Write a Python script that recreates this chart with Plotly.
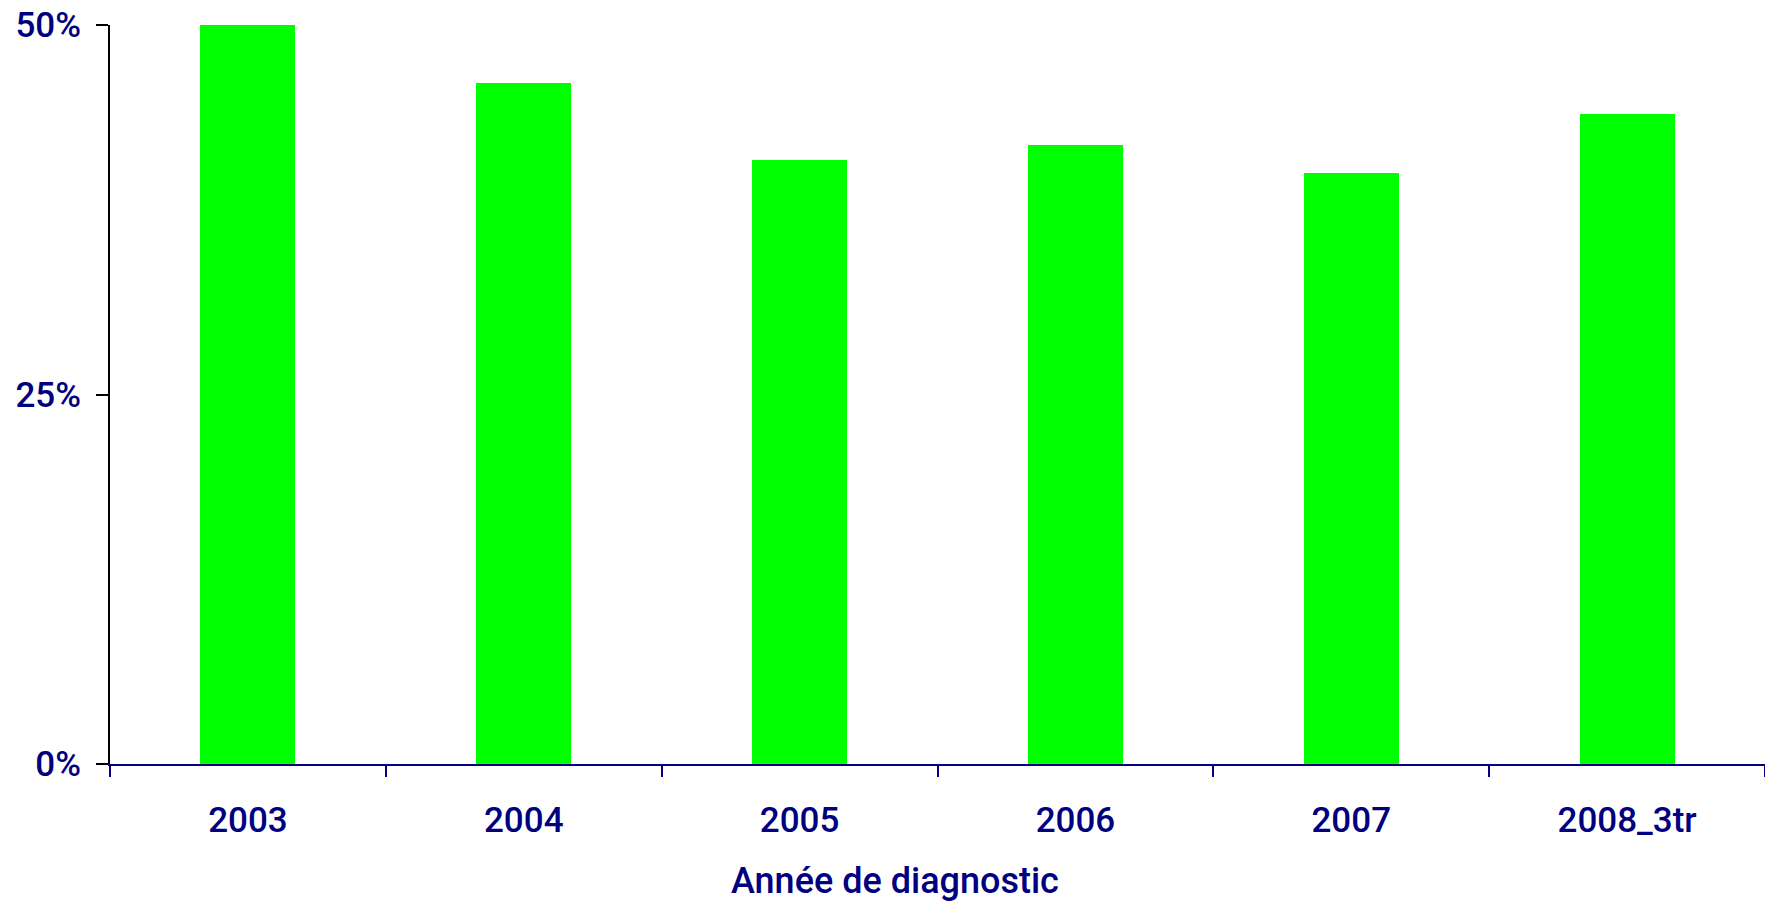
import plotly.graph_objects as go

years = ["2003", "2004", "2005", "2006", "2007", "2008_3tr"]
values = [50.0, 46.1, 40.9, 41.9, 40.0, 44.0]
y_tickvals = [0, 25, 50]
y_ticktext = ["0%", "25%", "50%"]
x_title = "Année de diagnostic"

NAVY = "#000080"
FONT = "Roboto, Liberation Sans, sans-serif"

W, H = 1765, 904
L, R, T, B = 110, 0, 25, 140

fig = go.Figure()
fig.add_trace(go.Bar(x=years, y=values, width=0.344,
                     marker=dict(color="#00FF00", line=dict(width=0))))

fig.update_layout(
    width=W, height=H,
    margin=dict(l=L, r=R, t=T, b=B, pad=0),
    plot_bgcolor="white", paper_bgcolor="white",
    showlegend=False,
    font=dict(family=FONT, color=NAVY, size=35, weight=500),
    bargap=0,
)
fig.update_xaxes(
    type="category", range=[-0.5, 5.5], automargin=False,
    showline=True, linecolor=NAVY, linewidth=2,
    ticks="outside", tickson="boundaries", ticklen=11, tickwidth=1.5, tickcolor=NAVY,
    showgrid=False, zeroline=False,
    tickfont=dict(family=FONT, size=35, color=NAVY, weight=500),
    ticklabelstandoff=24,
)
fig.update_yaxes(
    range=[0, 50], tickvals=y_tickvals, ticktext=y_ticktext, automargin=False,
    showline=True, linecolor="black", linewidth=2,
    ticks="outside", ticklen=12, tickwidth=2, tickcolor="black",
    showgrid=False, zeroline=False,
    tickfont=dict(family=FONT, size=35, color=NAVY, weight=500),
    ticklabelstandoff=8, ticklabeloverflow="allow",
)

plot_w = W - L - R
plot_h = H - T - B
fig.add_annotation(
    text=x_title, xref="paper", yref="paper",
    x=(895 - L) / plot_w, y=-(881 - (H - B)) / plot_h,
    xanchor="center", yanchor="middle", showarrow=False,
    font=dict(family=FONT, size=36, color=NAVY, weight=500),
)

fig.write_html(
    "out.html",
    config={"displayModeBar": False},
    post_script="document.body.style.margin='0';document.body.style.overflow='hidden';",
)
